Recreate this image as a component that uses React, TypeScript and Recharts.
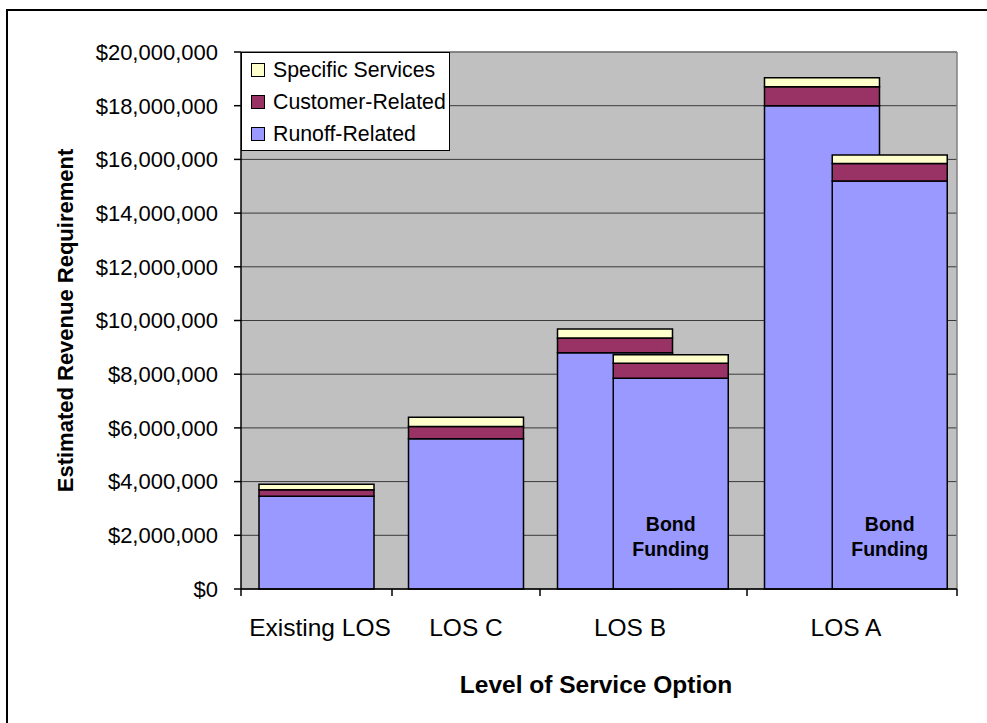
import React from 'react'
import {
  BarChart,
  Bar,
  XAxis,
  YAxis,
  CartesianGrid,
  Legend,
  Label,
  LabelList,
  ReferenceLine
} from 'recharts'

// category axis runs 0..716 along the plot, categories are not evenly spaced
const categories = ['Existing LOS', 'LOS C', 'LOS B', 'LOS A']
const categoryCenters = [79, 225, 389, 605]
const categoryBounds = [0, 151, 299, 506, 716]

// main bars
const barCenters = [75.5, 225, 374, 581]
const runoffRelated = [3450000, 5600000, 8800000, 18000000]
const customerRelated = [250000, 450000, 550000, 710000]
const specificServices = [200000, 350000, 330000, 330000]

// bond funding bars (only LOS B and LOS A have one)
const bondCenters = [75.5, 225, 430, 649]
const bondRunoff = [null, null, 7850000, 15200000]
const bondCustomer = [null, null, 560000, 650000]
const bondSpecific = [null, null, 310000, 310000]
const bondNote = 'Bond Funding'

const yTicks = [0, 2000000, 4000000, 6000000, 8000000, 10000000, 12000000, 14000000, 16000000, 18000000, 20000000]
const legendOrder = ['Specific Services', 'Customer-Related', 'Runoff-Related']

const data = categories.map((name, i) => ({
  name,
  pos: barCenters[i],
  runoff: runoffRelated[i],
  customer: customerRelated[i],
  specific: specificServices[i],
  bondPos: bondCenters[i],
  bondRunoff: bondRunoff[i],
  bondCustomer: bondCustomer[i],
  bondSpecific: bondSpecific[i],
  note: bondRunoff[i] ? bondNote : ''
}))

const font = '"Liberation Sans", Arial, sans-serif'

const XTick = (props: any) => {
  const { x, y, payload } = props
  const ci = categoryCenters.indexOf(payload.value)
  if (ci >= 0) {
    return (
      <text x={x} y={y + 40} textAnchor="middle" fontSize={24.5} fill="#000">
        {categories[ci]}
      </text>
    )
  }
  return <line x1={x} x2={x} y1={y - 7} y2={y} stroke="#000" strokeWidth={1.5} />
}

const BondNote = (props: any) => {
  const { x, y, width, height, value } = props
  if (!value) return null
  const [first, second] = String(value).split(' ')
  const cx = x + width / 2
  const bottom = y + height
  return (
    <g fontWeight="bold" fontSize={19.5} fill="#000" textAnchor="middle">
      <text x={cx} y={bottom - 58}>{first}</text>
      <text x={cx} y={bottom - 33}>{second}</text>
    </g>
  )
}

const LegendBox = (props: any) => {
  const items = legendOrder
    .map((n) => (props.payload || []).find((p: any) => p.value === n))
    .filter(Boolean)
  return (
    <div
      style={{
        boxSizing: 'border-box',
        width: 209,
        height: 99,
        background: '#fff',
        border: '1.5px solid #000',
        paddingTop: 1,
        fontFamily: font,
        fontSize: 21.3
      }}
    >
      {items.map((it: any) => (
        <div key={it.value} style={{ display: 'flex', alignItems: 'center', height: 32 }}>
          <span
            style={{
              display: 'inline-block',
              boxSizing: 'border-box',
              width: 14,
              height: 14,
              marginLeft: 9,
              marginRight: 8,
              background: it.color,
              border: '1.5px solid #000'
            }}
          />
          <span>{it.value}</span>
        </div>
      ))}
    </div>
  )
}

const YTitle = (props: any) => {
  const vb = props.viewBox
  const cx = vb.x + 65
  const cy = vb.y + vb.height / 2
  return (
    <text
      x={cx}
      y={cy}
      transform={`rotate(-90, ${cx}, ${cy})`}
      textAnchor="middle"
      dominantBaseline="central"
      fontWeight="bold"
      fontSize={22}
      fill="#000"
    >
      Estimated Revenue Requirement
    </text>
  )
}

const XTitle = (props: any) => {
  const vb = props.viewBox
  return (
    <text x={vb.x + vb.width / 2 - 3} y={vb.y + 104} textAnchor="middle" fontWeight="bold" fontSize={24.5} fill="#000">
      Level of Service Option
    </text>
  )
}

const barStyle = { stroke: '#000', strokeWidth: 1.5, barSize: 115, isAnimationActive: false }

const App: React.FC = () => {
  return (
    <div style={{ position: 'absolute', left: 0, top: 0, width: 987, height: 723, background: '#fff', fontFamily: font }}>
      <div style={{ position: 'absolute', left: 6, top: 9, width: 1.5, height: 714, background: '#000' }} />
      <div style={{ position: 'absolute', left: 6, top: 9, width: 981, height: 1.5, background: '#000' }} />
      <BarChart width={987} height={723} data={data} margin={{ top: 52, right: 30, left: 0, bottom: 0 }}>
        <CartesianGrid vertical={false} fill="#C0C0C0" stroke="#3a3a3a" strokeWidth={1} />
        <XAxis
          dataKey="pos"
          type="number"
          domain={[0, 716]}
          ticks={[...categoryBounds, ...categoryCenters].sort((a, b) => a - b)}
          interval={0}
          tick={<XTick />}
          tickLine={false}
          tickSize={7}
          tickMargin={0}
          height={134}
          axisLine={{ stroke: '#000', strokeWidth: 1.5 }}
        >
          <Label content={<XTitle />} />
        </XAxis>
        <XAxis xAxisId="bond" dataKey="bondPos" type="number" domain={[0, 716]} hide />
        <YAxis
          domain={[0, 20000000]}
          ticks={yTicks}
          interval={0}
          width={241}
          tickSize={7}
          tickMargin={16}
          tickFormatter={(v: number) => '$' + v.toLocaleString('en-US')}
          tick={{ fill: '#000', fontSize: 22 }}
          tickLine={{ stroke: '#000', strokeWidth: 1.5 }}
          axisLine={{ stroke: '#000', strokeWidth: 1.5 }}
        >
          <Label content={<YTitle />} />
        </YAxis>
        <ReferenceLine y={20000000} stroke="#808080" strokeWidth={1.5} />
        <ReferenceLine x={716} stroke="#808080" strokeWidth={1.5} />
        <Legend
          layout="vertical"
          align="center"
          verticalAlign="middle"
          wrapperStyle={{ left: 241, top: 52, width: 'auto' }}
          content={<LegendBox />}
        />
        <Bar dataKey="runoff" name="Runoff-Related" stackId="a" fill="#9999FF" {...barStyle} />
        <Bar dataKey="customer" name="Customer-Related" stackId="a" fill="#993366" {...barStyle} />
        <Bar dataKey="specific" name="Specific Services" stackId="a" fill="#FFFFCC" {...barStyle} />
        <Bar dataKey="bondRunoff" xAxisId="bond" stackId="b" fill="#9999FF" legendType="none" {...barStyle}>
          <LabelList dataKey="note" content={<BondNote />} />
        </Bar>
        <Bar dataKey="bondCustomer" xAxisId="bond" stackId="b" fill="#993366" legendType="none" {...barStyle} />
        <Bar dataKey="bondSpecific" xAxisId="bond" stackId="b" fill="#FFFFCC" legendType="none" {...barStyle} />
      </BarChart>
    </div>
  )
}

export default App
